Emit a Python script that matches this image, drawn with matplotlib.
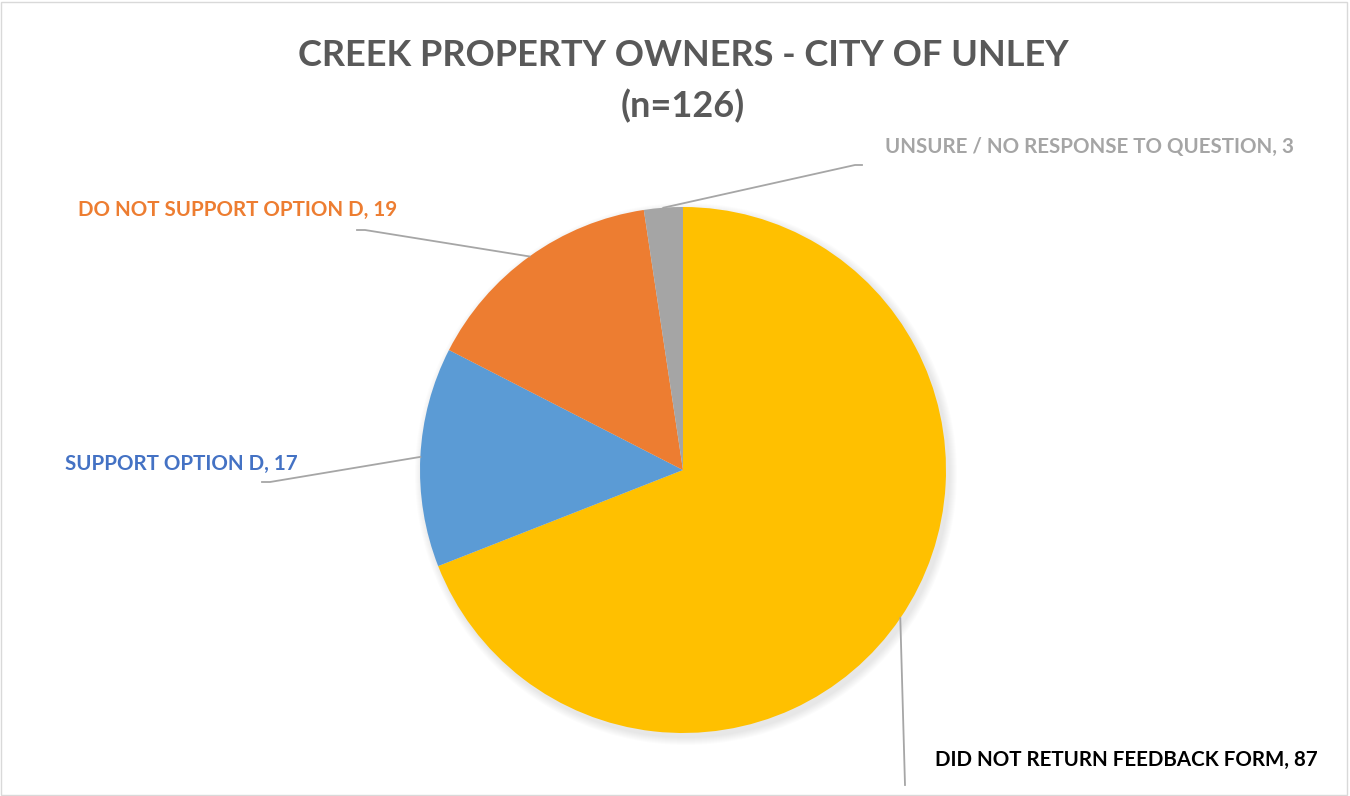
import numpy as np
import matplotlib.pyplot as plt
from matplotlib.patches import Circle, Rectangle

plt.rcParams['font.family'] = ['Lato', 'DejaVu Sans']

# Data (clockwise from 12 o'clock)
categories = ['DID NOT RETURN FEEDBACK FORM', 'SUPPORT OPTION D',
              'DO NOT SUPPORT OPTION D', 'UNSURE / NO RESPONSE TO QUESTION']
counts = [87, 17, 19, 3]
slice_colors = ['#FFC000', '#5B9BD5', '#ED7D31', '#A5A5A5']
label_colors = ['#000000', '#4472C4', '#ED7D31', '#A5A5A5']

W, H = 1350, 796
fig = plt.figure(figsize=(W / 100, H / 100), dpi=100)
ax = fig.add_axes([0, 0, 1, 1])

cx, cy, r = 683, H - 470, 263

# soft shadow under the pie
for i in range(8):
    ax.add_patch(Circle((cx + 3, cy - 4), r + 8 - i, color='black',
                        alpha=0.012, lw=0, zorder=0))

wedges, _ = ax.pie(counts, colors=slice_colors, startangle=90,
                   counterclock=False, center=(cx, cy), radius=r,
                   wedgeprops=dict(linewidth=0))
for w in wedges:
    w.set_zorder(2)

ax.set_xlim(0, W)
ax.set_ylim(0, H)
ax.set_aspect('equal')
ax.axis('off')

# label layout (pixel positions, top-left origin): text anchor, leader path end
label_pos = [(935, 760), (65, 464), (78, 210), (885, 147)]
leader_ends = [[(905, 785)], [(270, 482), (262, 482)],
               [(365, 230), (357, 230)], [(855, 165), (862, 165)]]

for w, cat, n, col, (tx, ty), ends in zip(wedges, categories, counts,
                                           label_colors, label_pos, leader_ends):
    mid = np.deg2rad((w.theta1 + w.theta2) / 2)
    sx, sy = cx + r * np.cos(mid), cy + r * np.sin(mid)
    xs = [sx] + [e[0] for e in ends]
    ys = [sy] + [H - e[1] for e in ends]
    ax.plot(xs, ys, color='#A6A6A6', lw=1.3, zorder=3)
    ax.text(tx, H - ty, f'{cat}, {n}', color=col, fontsize=14.8,
            fontweight='bold', ha='left', va='center', zorder=4)

ax.text(683, H - 55, 'CREEK PROPERTY OWNERS - CITY OF UNLEY', color='#595959',
        fontsize=26, fontweight='bold', ha='center', va='center')
ax.text(683, H - 106, '(n=126)', color='#595959',
        fontsize=26, fontweight='bold', ha='center', va='center')

# chart border
fig.patches.append(Rectangle((0.001, 0.001), 0.997, 0.997, transform=fig.transFigure,
                             fill=False, edgecolor='#D9D9D9', lw=1))

fig.savefig('out.png', dpi=100)
